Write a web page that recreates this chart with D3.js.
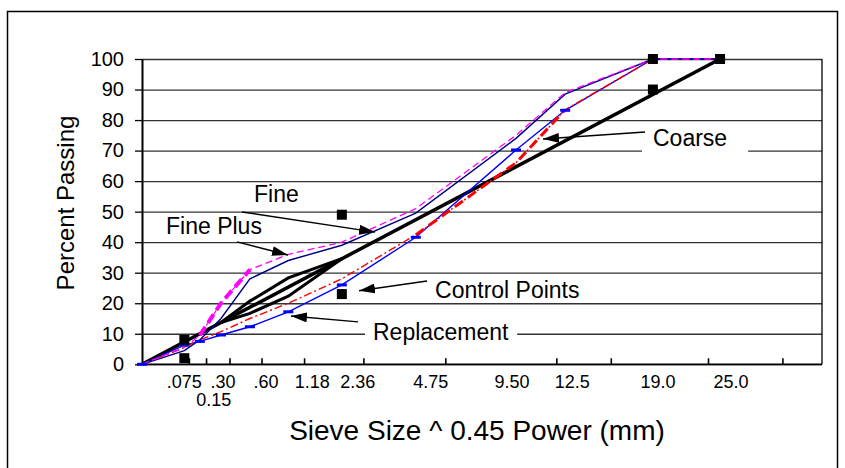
<!DOCTYPE html>
<html>
<head>
<meta charset="utf-8">
<script src="https://cdn.jsdelivr.net/npm/d3@7"></script>
<style>
  body { margin: 0; background: #fff; }
  svg { display: block; }
  text { font-family: "Liberation Sans", Arial, sans-serif; fill: #000; }
</style>
</head>
<body>
<svg id="chart_svg" width="845" height="468"></svg>
<script>
// sieve sizes (mm) used by the gradation curves
const sieves = [0, 0.075, 0.15, 0.3, 0.6, 1.18, 2.36, 4.75, 9.5, 12.5, 19, 25];

// percent passing for each gradation
const fine        = [0, 4.5, 8, 15, 28, 34, 39, 49.5, 74, 88.5, 100, 100];
const finePlus    = [0, 5.5, 9.5, 20, 31, 36, 40, 51, 75, 89, 100, 100];
const replacement = [0, 6.3, 7.5, 9.6, 12.3, 17.2, 26, 41.6, 70.2, 83.2, 100, 100];
const coarse      = [0, 5.5, 8, 10.7, 15, 20, 28, 42.4, 66, 83.4, 100, 100];

// maximum density line (straight on the 0.45 power scale)
const mdlSieves = [0, 25];
const mdlValues = [0, 100];

// restricted zone
const rzSieves = [0.3, 0.6, 1.18, 2.36];
const rzUpper  = [13.7, 20.7, 28.3, 34.6];
const rzLower  = [13.7, 16.7, 22.3, 34.6];

// control points
const cpSieves = [0.075, 0.075, 2.36, 2.36, 19, 19, 25];
const cpValues = [2, 8, 23, 49, 90, 100, 100];

// axis ticks
const yTicks = [0, 10, 20, 30, 40, 50, 60, 70, 80, 90, 100];
const tickSieves = [0.075, 0.15, 0.3, 0.6, 1.18, 2.36, 4.75, 9.5, 12.5, 19, 25];
const tickLabels = [".075", "0.15", ".30", ".60", "1.18", "2.36", "4.75", "9.50", "12.5", "19.0", "25.0"];

// label layout: pixel nudge and row
const labelNudge = [0, 14, 2, 16, 24, 16, 15, -4, 7, 5, 11];
const labelRow   = [0, 1, 0, 0, 0, 0, 0, 0, 0, 0, 0];

// annotations, in axis units (sieve^0.45, percent)
const notes = [
  { text: "Fine",           at: [0.825, 53.3], from: [0.736, 49.9], to: [1.716, 43.3] },
  { text: "Fine Plus",      at: [0.177, 42.7], from: [0.70, 40.1],  to: [1.075, 35.8] },
  { text: "Control Points", at: [2.158, 21.7], from: [2.099, 27.3], to: [1.598, 24.1] },
  { text: "Replacement",    at: [1.701, 8.0],  from: [1.591, 13.9], to: [1.097, 15.8], box: [8, 8] },
  { text: "Coarse",         at: [3.763, 71.5], from: [3.704, 76.1], to: [2.953, 73.8], box: [11, 21] }
];

const pw = s => Math.pow(s, 0.45);
const zip = (xs, ys) => xs.map((x, i) => [x, ys[i]]);

const svg = d3.select("#chart_svg");

const plot = { left: 142, right: 822, top: 59, bottom: 364.3 };

// data axis runs 0..5 in power units, tick axis 0..4.5
const xData = d3.scaleLinear().domain([0, 5]).range([plot.left, 821]);
const xTick = d3.scaleLinear().domain([0, 4.5]).range([plot.left, 819]);
const y = d3.scaleLinear().domain([0, 100]).range([plot.bottom, plot.top]);

// outer frame
svg.append("rect")
  .attr("x", 7.5).attr("y", 11.5)
  .attr("width", 830).attr("height", 480)
  .attr("fill", "none").attr("stroke", "#000").attr("stroke-width", 1.5);

// gridlines
const grid = svg.append("g")
  .attr("transform", "translate(" + plot.left + ",0)")
  .call(d3.axisLeft(y).tickValues(yTicks).tickSize(-(plot.right - plot.left)).tickFormat(""));
grid.select(".domain").remove();
grid.selectAll("line").attr("stroke", "#333").attr("stroke-width", 1.3);

// plot border (right side)
svg.append("line")
  .attr("x1", plot.right).attr("x2", plot.right)
  .attr("y1", plot.top).attr("y2", plot.bottom)
  .attr("stroke", "#000").attr("stroke-width", 1.3);

// y axis
const yAxis = svg.append("g")
  .attr("transform", "translate(" + plot.left + ",0)")
  .call(d3.axisLeft(y).tickValues(yTicks).tickSize(7).tickSizeOuter(0).tickPadding(11));
yAxis.select(".domain").attr("stroke-width", 2);
yAxis.selectAll("line").attr("stroke-width", 1.3);
yAxis.selectAll("text").style("font-size", "20px").style("font-family", '"Liberation Sans", Arial, sans-serif');

// x axis line and tick marks
svg.append("line")
  .attr("x1", plot.left).attr("x2", plot.right)
  .attr("y1", plot.bottom).attr("y2", plot.bottom)
  .attr("stroke", "#000").attr("stroke-width", 1.6);

const xAxis = svg.append("g")
  .attr("transform", "translate(0," + plot.bottom + ")")
  .call(d3.axisBottom(xTick).tickValues(tickSieves.map(pw)).tickSize(-6).tickSizeOuter(0).tickFormat(""));
xAxis.select(".domain").remove();
xAxis.selectAll("line").attr("stroke-width", 1.6);

// x tick labels (hand placed near the data positions)
svg.append("g").selectAll("text")
  .data(tickLabels)
  .join("text")
  .attr("x", (d, i) => xData(pw(tickSieves[i])) + labelNudge[i])
  .attr("y", (d, i) => 388 + labelRow[i] * 18)
  .attr("text-anchor", "middle")
  .style("font-size", "18px")
  .text(d => d);

// axis titles
svg.append("text")
  .attr("transform", "translate(74," + 203 + ") rotate(-90)")
  .attr("text-anchor", "middle")
  .style("font-size", "24px")
  .text("Percent Passing");

svg.append("text")
  .attr("x", 477).attr("y", 440)
  .attr("text-anchor", "middle")
  .style("font-size", "28px")
  .text("Sieve Size ^ 0.45 Power (mm)");

// lines
const line = d3.line()
  .x(d => xData(pw(d[0])))
  .y(d => y(d[1]));

const g = svg.append("g");

g.append("path").datum(zip(mdlSieves, mdlValues))
  .attr("d", line).attr("fill", "none").attr("stroke", "#000").attr("stroke-width", 3.5);
g.append("path").datum(zip(rzSieves, rzUpper))
  .attr("d", line).attr("fill", "none").attr("stroke", "#000").attr("stroke-width", 3);
g.append("path").datum(zip(rzSieves, rzLower))
  .attr("d", line).attr("fill", "none").attr("stroke", "#000").attr("stroke-width", 3);

g.append("path").datum(zip(sieves, replacement))
  .attr("d", line).attr("fill", "none").attr("stroke", "#0000ff").attr("stroke-width", 1.4);

g.append("path").datum(zip(sieves, coarse))
  .attr("d", line).attr("fill", "none").attr("stroke", "#ff0000").attr("stroke-width", 1.4)
  .attr("stroke-dasharray", "8,3,2,3");
g.append("path").datum(zip(sieves, coarse).slice(7, 10))
  .attr("d", line).attr("fill", "none").attr("stroke", "#ff0000").attr("stroke-width", 3)
  .attr("stroke-dasharray", "10,6");

g.append("path").datum(zip(sieves, fine))
  .attr("d", line).attr("fill", "none").attr("stroke", "#000080").attr("stroke-width", 1.4);

g.append("path").datum(zip(sieves, finePlus))
  .attr("d", line).attr("fill", "none").attr("stroke", "#ff00ff").attr("stroke-width", 1.3)
  .attr("stroke-dasharray", "7,4");
g.append("path").datum(zip(sieves, finePlus).slice(2, 5))
  .attr("d", line).attr("fill", "none").attr("stroke", "#ff00ff").attr("stroke-width", 4)
  .attr("stroke-dasharray", "10,5");

// replacement markers
g.selectAll(".rep_mark")
  .data(zip(sieves, replacement))
  .join("rect")
  .attr("class", "rep_mark")
  .attr("x", d => xData(pw(d[0])) - 5)
  .attr("y", d => y(d[1]) - 1.5)
  .attr("width", 10).attr("height", 3)
  .attr("fill", "#0000ff");

// control points
g.selectAll(".cp")
  .data(zip(cpSieves, cpValues))
  .join("rect")
  .attr("class", "cp")
  .attr("x", d => xData(pw(d[0])) - 5)
  .attr("y", d => y(d[1]) - 5)
  .attr("width", 10).attr("height", 10)
  .attr("fill", "#000");

// annotations
svg.append("defs").append("marker")
  .attr("id", "arrow")
  .attr("markerUnits", "userSpaceOnUse")
  .attr("viewBox", "0 0 16 10")
  .attr("refX", 16).attr("refY", 5)
  .attr("markerWidth", 16).attr("markerHeight", 10)
  .attr("orient", "auto")
  .append("path").attr("d", "M0,0 L16,5 L0,10 Z").attr("fill", "#000");

const ax = p => xData(p);

notes.forEach(n => {
  const t = svg.append("text")
    .attr("x", ax(n.at[0])).attr("y", y(n.at[1]))
    .style("font-size", "23px")
    .text(n.text);
  if (n.box) {
    const b = t.node().getBBox();
    svg.insert("rect", function () { return t.node(); })
      .attr("x", b.x - n.box[0]).attr("y", b.y - 2)
      .attr("width", b.width + n.box[0] + n.box[1]).attr("height", b.height + 6)
      .attr("fill", "#fff");
  }
  svg.append("line")
    .attr("x1", ax(n.from[0])).attr("y1", y(n.from[1]))
    .attr("x2", ax(n.to[0])).attr("y2", y(n.to[1]))
    .attr("stroke", "#000").attr("stroke-width", 1.4)
    .attr("marker-end", "url(#arrow)");
});
</script>
</body>
</html>
